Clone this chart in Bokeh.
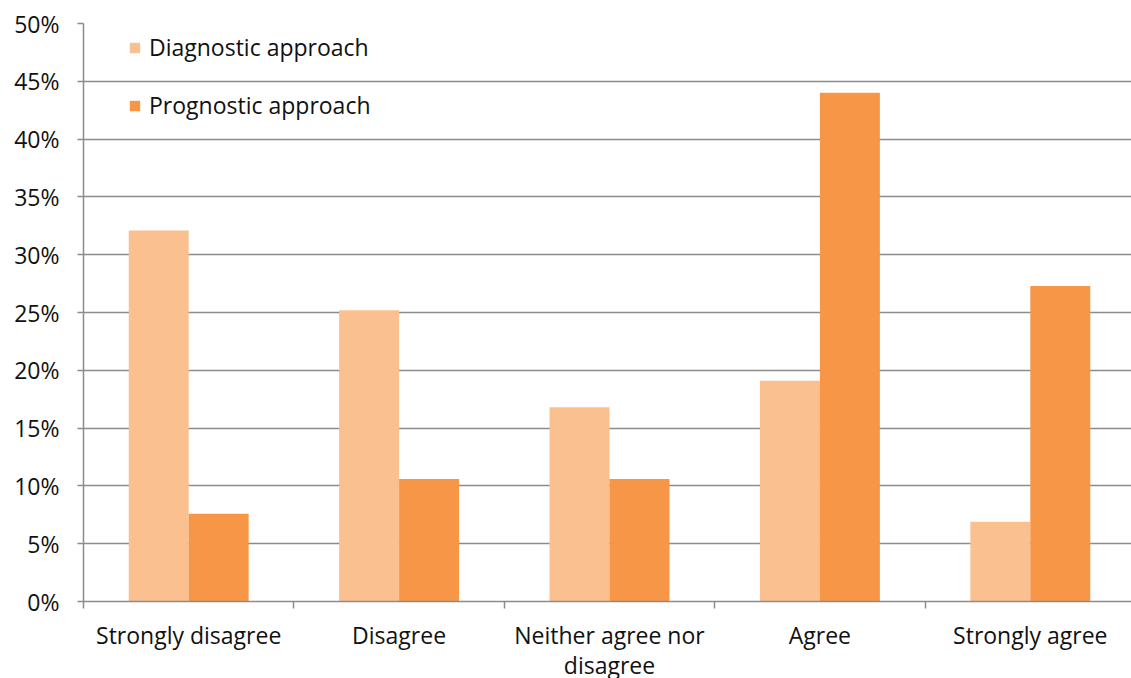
from bokeh.plotting import figure
from bokeh.models import (Range1d, FixedTicker, NumeralTickFormatter, Legend,
                          LegendItem, ColumnDataSource)
from bokeh.transform import dodge
from bokeh.embed import file_html
from bokeh.resources import INLINE

# Survey responses (share of respondents)
categories = ["Strongly disagree", "Disagree", "Neither agree nor\ndisagree",
              "Agree", "Strongly agree"]
diagnostic = [0.321, 0.252, 0.168, 0.191, 0.069]
prognostic = [0.076, 0.106, 0.106, 0.440, 0.273]
series_names = ["Diagnostic approach", "Prognostic approach"]
y_ticks = [0.0, 0.05, 0.10, 0.15, 0.20, 0.25, 0.30, 0.35, 0.40, 0.45, 0.50]

FONT = "Open Sans"
FONT_SIZE = "23px"
TEXT = "#111111"
GRID = "#8c8c8c"

positions = [i + 0.5 for i in range(len(categories))]
src = ColumnDataSource(dict(x=positions, diag=diagnostic, prog=prognostic))

p = figure(frame_width=1048, frame_height=578, output_backend="svg",
           toolbar_location=None,
           x_range=Range1d(0, 1048 / 210.4), y_range=Range1d(0, 0.5),
           min_border_left=83, min_border_right=0, min_border_top=23,
           min_border_bottom=0)
p.outline_line_color = None
p.background_fill_color = "white"
p.border_fill_color = "white"

bar_w = 0.285
r1 = p.vbar(x=dodge("x", -bar_w / 2, range=p.x_range), top="diag", width=bar_w,
            source=src, fill_color="#FAC090", line_color=None)
r2 = p.vbar(x=dodge("x", bar_w / 2, range=p.x_range), top="prog", width=bar_w,
            source=src, fill_color="#F79646", line_color=None)

# x axis: category labels at centres, tick marks at category boundaries
xa = p.xaxis[0]
xa.ticker = FixedTicker(ticks=positions,
                        minor_ticks=list(range(len(categories) + 1)))
xa.major_label_overrides = {pos: lab for pos, lab in zip(positions, categories)}
xa.major_tick_line_color = None
xa.major_tick_out = 0
xa.major_tick_in = 0
xa.minor_tick_line_color = GRID
xa.minor_tick_line_width = 1.5
xa.minor_tick_out = 7
xa.minor_tick_in = 0
xa.axis_line_color = GRID
xa.axis_line_width = 1.5
xa.major_label_standoff = 10
xa.major_label_text_font = FONT
xa.major_label_text_font_size = FONT_SIZE
xa.major_label_text_color = TEXT
xa.major_label_text_line_height = 0.96

ya = p.yaxis[0]
ya.ticker = FixedTicker(ticks=y_ticks)
ya.formatter = NumeralTickFormatter(format="0%")
ya.minor_tick_line_color = None
ya.major_tick_line_color = GRID
ya.major_tick_line_width = 1.5
ya.major_tick_out = 6
ya.major_tick_in = 0
ya.axis_line_color = GRID
ya.axis_line_width = 1.5
ya.major_label_standoff = 18
ya.major_label_text_font = FONT
ya.major_label_text_font_size = FONT_SIZE
ya.major_label_text_color = TEXT

p.xgrid.grid_line_color = None
p.ygrid.ticker = FixedTicker(ticks=y_ticks)
p.ygrid.grid_line_color = GRID
p.ygrid.grid_line_width = 1.5

legend = Legend(items=[LegendItem(label=series_names[0], renderers=[r1]),
                       LegendItem(label=series_names[1], renderers=[r2])],
                location=(45, 480), orientation="vertical")
legend.background_fill_alpha = 0
legend.border_line_color = None
legend.glyph_width = 13
legend.glyph_height = 13
legend.label_text_font = FONT
legend.label_text_font_size = FONT_SIZE
legend.label_text_color = TEXT
legend.spacing = 26
legend.label_standoff = 8
legend.padding = 0
legend.margin = 0
p.add_layout(legend)

open("out.html", "w").write(file_html(p, INLINE))
